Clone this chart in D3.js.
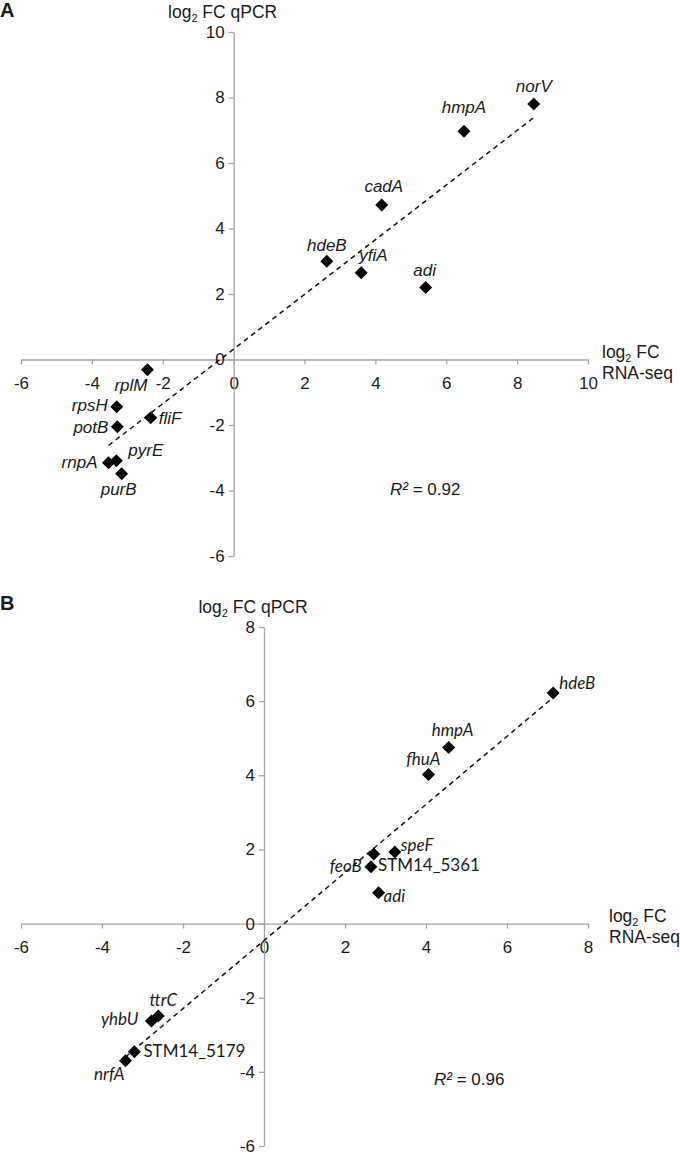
<!DOCTYPE html>
<html>
    <head>
        <meta charset="UTF-8">
        <title>qPCR vs RNA-seq</title>
        <style type="text/css">
            body {
                margin: 0;
                background: #ffffff;
            }
            #chart text {
                font-family: "Liberation Sans", Arial, sans-serif;
                fill: #1a1a1a;
            }
            #chart .axis path, #chart .axis line {
                stroke: #a3a3a3;
                stroke-width: 1.3px;
            }
            #chart .axis text {
                font-size: 17px;
            }
            #chart .gene {
                font-style: italic;
                font-size: 17px;
            }
            #chart .geneB {
                font-family: Lato, "Open Sans", sans-serif;
                font-size: 17px;
            }
        </style>
        <script src="https://d3js.org/d3.v7.min.js"></script>
    </head>
    <body>
        <div id="chart"></div>
        <script>
            // panel A
            const genesA = ["norV", "hmpA", "cadA", "hdeB", "yfiA", "adi", "rplM", "rpsH", "potB", "fliF", "rnpA", "pyrE", "purB"];
            const rnaseqA = [8.47, 6.5, 4.18, 2.63, 3.6, 5.42, -2.43, -3.3, -3.28, -2.34, -3.53, -3.31, -3.16];
            const qpcrA = [7.8, 6.97, 4.72, 3.0, 2.65, 2.2, -0.31, -1.44, -2.05, -1.78, -3.15, -3.09, -3.49];
            const ticksA = [-6, -4, -2, 0, 2, 4, 6, 8, 10];
            const r2A = "0.92";

            // panel B
            const genesB = ["hdeB", "hmpA", "fhuA", "speF", "feoB", "STM14_5361", "adi", "ttrC", "yhbU", "STM14_5179", "nrfA"];
            const rnaseqB = [7.14, 4.56, 4.06, 3.23, 2.71, 2.64, 2.83, -2.61, -2.78, -3.2, -3.42];
            const qpcrB = [6.22, 4.75, 4.02, 1.93, 1.88, 1.53, 0.83, -2.49, -2.63, -3.46, -3.7];
            const ticksB = [-6, -4, -2, 0, 2, 4, 6, 8];
            const r2B = "0.96";

            const width = 680, height = 1157;

            // label offsets from the marker: [dx, dy, anchor]
            const placeA = {
                norV: [0, -12, "middle"], hmpA: [0, -18, "middle"], cadA: [2, -13, "middle"],
                hdeB: [0, -10, "middle"], yfiA: [-2, -12, "start"], adi: [-1, -11, "middle"],
                rplM: [0, 21, "end"], rpsH: [-9, 4, "end"], potB: [-9, 6, "end"],
                fliF: [8, 6, "start"], rnpA: [-11, 5, "end"], pyrE: [12, -5, "start"],
                purB: [-3, 21, "middle"]
            };
            const placeB = {
                hdeB: [6, -4, "start"], hmpA: [4, -11, "middle"], fhuA: [-5, -10, "middle"],
                speF: [6, -1, "start"], feoB: [-12, 18, "end"], STM14_5361: [7, 4, "start"],
                adi: [5, 9, "start"], ttrC: [5, -10, "middle"], yhbU: [-13, 4, "end"],
                STM14_5179: [9, 5, "start"], nrfA: [-1, 19, "end"]
            };

            const svg = d3.select("#chart")
                .append("svg")
                .attr("width", width)
                .attr("height", height);

            function fit (xs, ys) {
                const mx = d3.mean(xs), my = d3.mean(ys);
                let sxy = 0, sxx = 0;
                xs.forEach((v, i) => {
                    sxy += (v - mx) * (ys[i] - my);
                    sxx += (v - mx) * (v - mx);
                });
                const slope = sxy / sxx;
                return { slope: slope, icpt: my - slope * mx };
            }

            // plain hyphen for negatives, like the original
            const fmt = d => String(d);

            function panel (cfg) {
                const g = svg.append("g");
                const x = d3.scaleLinear().domain(d3.extent(cfg.ticks)).range(cfg.xRange);
                const y = d3.scaleLinear().domain(d3.extent(cfg.ticks)).range(cfg.yRange);

                g.append("g")
                    .attr("class", "axis")
                    .attr("transform", `translate(0, ${y(0)})`)
                    .call(d3.axisBottom(x).tickValues(cfg.ticks).tickFormat(fmt)
                        .tickSize(5).tickSizeOuter(0).tickPadding(12));
                g.append("g")
                    .attr("class", "axis")
                    .attr("transform", `translate(${x(0)}, 0)`)
                    .call(d3.axisLeft(y).tickValues(cfg.ticks).tickFormat(fmt)
                        .tickSize(5).tickSizeOuter(0).tickPadding(4));
                g.selectAll(".axis text").attr("fill", "#1a1a1a");

                // trend line over the data range
                const lf = fit(cfg.xs, cfg.ys);
                const ext = d3.extent(cfg.xs);
                g.append("line")
                    .attr("x1", x(ext[0])).attr("y1", y(lf.slope * ext[0] + lf.icpt))
                    .attr("x2", x(ext[1])).attr("y2", y(lf.slope * ext[1] + lf.icpt))
                    .attr("stroke", "#111")
                    .attr("stroke-width", 1.5)
                    .attr("stroke-dasharray", "5,4");

                const r = 6.5;
                g.selectAll("path.pt")
                    .data(cfg.genes)
                    .enter()
                    .append("path")
                    .attr("class", "pt")
                    .attr("d", `M0,${-r}L${r},0L0,${r}L${-r},0Z`)
                    .attr("transform", (d, i) => `translate(${x(cfg.xs[i])}, ${y(cfg.ys[i])})`)
                    .attr("fill", "#000");

                g.selectAll("text.lbl")
                    .data(cfg.genes)
                    .enter()
                    .append("text")
                    .attr("class", d => "lbl " + cfg.labelClass)
                    .attr("x", (d, i) => x(cfg.xs[i]) + cfg.place[d][0])
                    .attr("y", (d, i) => y(cfg.ys[i]) + cfg.place[d][1])
                    .attr("text-anchor", d => cfg.place[d][2])
                    .style("font-style", d => d.startsWith("STM") ? "normal" : "italic")
                    .text(d => d);

                // panel letter
                g.append("text")
                    .attr("x", 0).attr("y", cfg.letterY)
                    .style("font-weight", "bold").style("font-size", "20px")
                    .text(cfg.letter);

                // y axis title
                const yt = g.append("text")
                    .attr("x", x(0) - 11).attr("y", cfg.yRange[1] - 14)
                    .attr("text-anchor", "middle")
                    .style("font-size", "17.5px");
                yt.append("tspan").text("log");
                yt.append("tspan").attr("dy", 4).style("font-size", "11px").text("2");
                yt.append("tspan").attr("dy", -4).text(" FC qPCR");

                // x axis title
                const xt = g.append("text")
                    .attr("x", cfg.xRange[1] + cfg.xTitleDx).attr("y", y(0) - 2)
                    .style("font-size", "17.5px");
                xt.append("tspan").text("log");
                xt.append("tspan").attr("dy", 4).style("font-size", "11px").text("2");
                xt.append("tspan").attr("dy", -4).text(" FC");
                g.append("text")
                    .attr("x", cfg.xRange[1] + cfg.xTitleDx).attr("y", y(0) + 19)
                    .style("font-size", "17.5px")
                    .text("RNA-seq");

                // R squared
                const rt = g.append("text")
                    .attr("x", cfg.r2x).attr("y", cfg.r2y)
                    .style("font-size", "17px");
                rt.append("tspan").style("font-style", "italic").text("R²");
                rt.append("tspan").text(" = " + cfg.r2);
            }

            panel({
                letter: "A", letterY: 17,
                genes: genesA, xs: rnaseqA, ys: qpcrA, ticks: ticksA,
                xRange: [21, 588], yRange: [556, 32],
                place: placeA, labelClass: "gene", xTitleDx: 14,
                r2: r2A, r2x: 390, r2y: 495
            });

            panel({
                letter: "B", letterY: 610,
                genes: genesB, xs: rnaseqB, ys: qpcrB, ticks: ticksB,
                xRange: [21, 588], yRange: [1146, 627],
                place: placeB, labelClass: "geneB", xTitleDx: 21,
                r2: r2B, r2x: 434, r2y: 1085
            });
        </script>
    </body>
</html>
